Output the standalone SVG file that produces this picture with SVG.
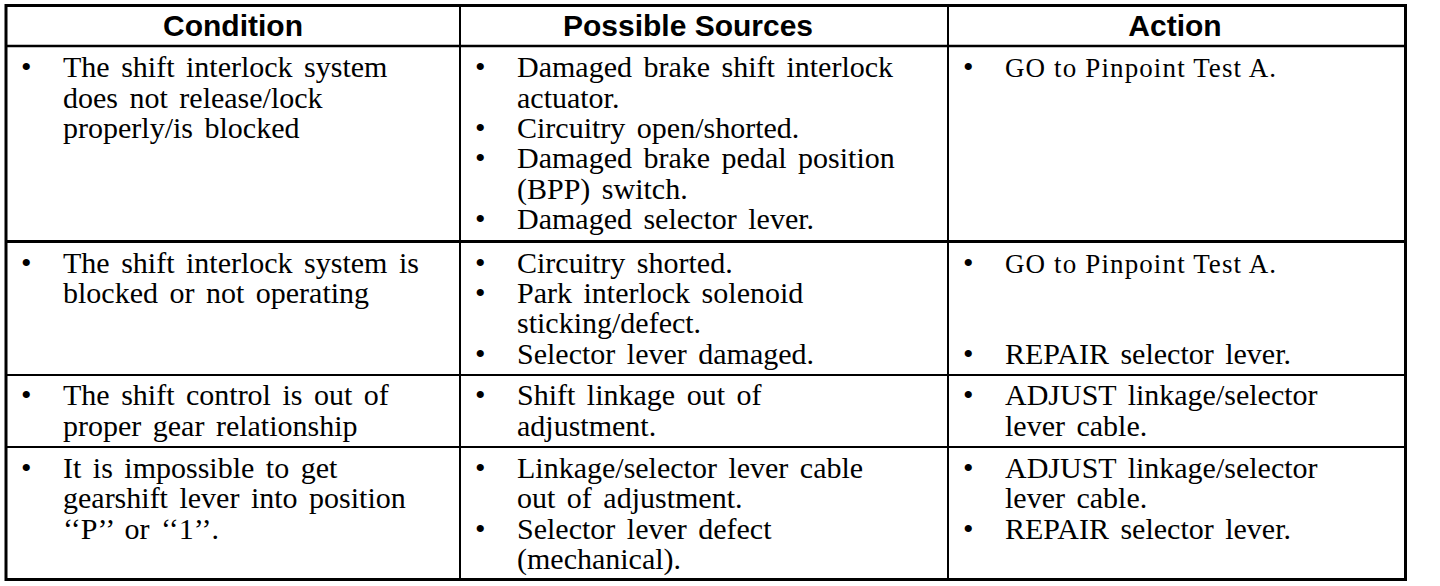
<svg xmlns="http://www.w3.org/2000/svg" width="1440" height="586" viewBox="0 0 1440 586">
<style>
.bg{fill:#fff}
.ln{stroke:#000;fill:none}
.h{font-family:"Liberation Sans",Arial,sans-serif;font-weight:bold;font-size:30px;fill:#000}
.t{font-family:"Liberation Serif","Times New Roman",serif;font-size:30px;fill:#000;word-spacing:4px}
.a{font-family:"Liberation Serif","Times New Roman",serif;font-size:27px;fill:#000}
.b{font-family:"Liberation Serif","Times New Roman",serif;font-size:30px;fill:#000}
</style>
<rect class="bg" x="0" y="0" width="1440" height="586"/>
<g id="grid">
<rect class="ln" x="6" y="5.5" width="1399.5" height="574" stroke-width="3"/>
<line class="ln" x1="6" y1="46" x2="1405" y2="46" stroke-width="2.5"/>
<line class="ln" x1="6" y1="241.5" x2="1405" y2="241.5" stroke-width="3"/>
<line class="ln" x1="6" y1="375" x2="1405" y2="375" stroke-width="2"/>
<line class="ln" x1="6" y1="447" x2="1405" y2="447" stroke-width="2"/>
<line class="ln" x1="460" y1="5" x2="460" y2="579" stroke-width="2"/>
<line class="ln" x1="948" y1="5" x2="948" y2="579" stroke-width="2"/>
</g>
<g id="header">
<text class="h" x="233" y="36" text-anchor="middle">Condition</text>
<text class="h" x="688" y="36" text-anchor="middle">Possible Sources</text>
<text class="h" x="1175" y="36" text-anchor="middle">Action</text>
</g>
<g id="row1">
<g id="r1-condition">
<text class="b" x="21" y="77">•</text>
<text class="t" x="63" y="77">The shift interlock system</text>
<text class="t" x="63" y="108">does not release/lock</text>
<text class="t" x="63" y="138">properly/is blocked</text>
</g>
<g id="r1-sources">
<text class="b" x="475" y="77">•</text>
<text class="t" x="517" y="77">Damaged brake shift interlock</text>
<text class="t" x="517" y="108">actuator.</text>
<text class="b" x="475" y="138">•</text>
<text class="t" x="517" y="138">Circuitry open/shorted.</text>
<text class="b" x="475" y="168">•</text>
<text class="t" x="517" y="168">Damaged brake pedal position</text>
<text class="t" x="517" y="199">(BPP) switch.</text>
<text class="b" x="475" y="229">•</text>
<text class="t" x="517" y="229">Damaged selector lever.</text>
</g>
<g id="r1-action">
<text class="b" x="963" y="77">•</text>
<text class="a" x="1005" y="77" textLength="271" lengthAdjust="spacing">GO to Pinpoint Test A.</text>
</g>
</g>
<g id="row2">
<g id="r2-condition">
<text class="b" x="21" y="273">•</text>
<text class="t" x="63" y="273">The shift interlock system is</text>
<text class="t" x="63" y="303">blocked or not operating</text>
</g>
<g id="r2-sources">
<text class="b" x="475" y="273">•</text>
<text class="t" x="517" y="273">Circuitry shorted.</text>
<text class="b" x="475" y="303">•</text>
<text class="t" x="517" y="303">Park interlock solenoid</text>
<text class="t" x="517" y="333">sticking/defect.</text>
<text class="b" x="475" y="364">•</text>
<text class="t" x="517" y="364">Selector lever damaged.</text>
</g>
<g id="r2-action">
<text class="b" x="963" y="273">•</text>
<text class="a" x="1005" y="273" textLength="271" lengthAdjust="spacing">GO to Pinpoint Test A.</text>
<text class="b" x="963" y="364">•</text>
<text class="t" x="1005" y="364">REPAIR selector lever.</text>
</g>
</g>
<g id="row3">
<g id="r3-condition">
<text class="b" x="21" y="405">•</text>
<text class="t" x="63" y="405">The shift control is out of</text>
<text class="t" x="63" y="436">proper gear relationship</text>
</g>
<g id="r3-sources">
<text class="b" x="475" y="405">•</text>
<text class="t" x="517" y="405">Shift linkage out of</text>
<text class="t" x="517" y="436">adjustment.</text>
</g>
<g id="r3-action">
<text class="b" x="963" y="405">•</text>
<text class="t" x="1005" y="405">ADJUST linkage/selector</text>
<text class="t" x="1005" y="436">lever cable.</text>
</g>
</g>
<g id="row4">
<g id="r4-condition">
<text class="b" x="21" y="478">•</text>
<text class="t" x="63" y="478">It is impossible to get</text>
<text class="t" x="63" y="508">gearshift lever into position</text>
<text class="t" x="63" y="538.5">‘‘P’’ or ‘‘1’’.</text>
</g>
<g id="r4-sources">
<text class="b" x="475" y="478">•</text>
<text class="t" x="517" y="478">Linkage/selector lever cable</text>
<text class="t" x="517" y="508">out of adjustment.</text>
<text class="b" x="475" y="538.5">•</text>
<text class="t" x="517" y="538.5">Selector lever defect</text>
<text class="t" x="517" y="569">(mechanical).</text>
</g>
<g id="r4-action">
<text class="b" x="963" y="478">•</text>
<text class="t" x="1005" y="478">ADJUST linkage/selector</text>
<text class="t" x="1005" y="508">lever cable.</text>
<text class="b" x="963" y="538.5">•</text>
<text class="t" x="1005" y="538.5">REPAIR selector lever.</text>
</g>
</g>
</svg>
